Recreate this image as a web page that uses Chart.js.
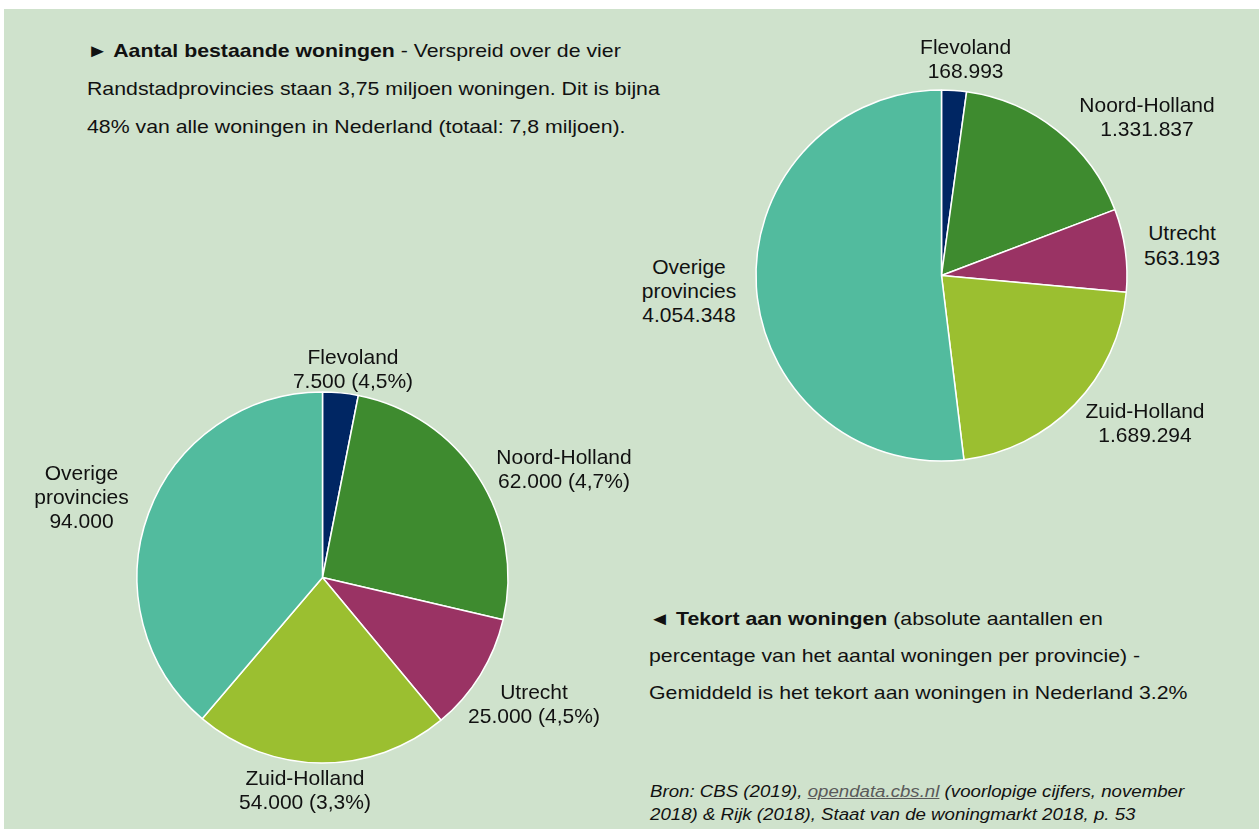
<!DOCTYPE html>
<html><head><meta charset="utf-8">
<script src="https://cdn.jsdelivr.net/npm/chart.js@4.4.1/dist/chart.umd.min.js"></script>
<style>
html,body{margin:0;padding:0;background:#fff;width:1259px;height:829px;overflow:hidden;position:relative;}
#bg{position:absolute;left:4px;top:9px;right:0;bottom:0;background:#cfe2cc;}
.para{position:absolute;font-family:"Liberation Sans",Arial,sans-serif;color:#111;white-space:nowrap;transform-origin:0 0;}
.lbl{position:absolute;font-family:"Liberation Sans",Arial,sans-serif;font-size:21px;line-height:24.3px;text-align:center;color:#111;white-space:nowrap;transform:translateX(-50%);}
canvas{position:absolute;}
a{color:#5a5a5a;text-decoration:underline;}
</style></head>
<body>
<div id="bg"></div>
<div class="para" id="p1" style="left:87px;top:32.2px;font-size:18.6px;line-height:37.8px;transform:scaleX(1.145);"><b>► Aantal bestaande woningen</b> - Verspreid over de vier<br>Randstadprovincies staan 3,75 miljoen woningen. Dit is bijna<br>48% van alle woningen in Nederland (totaal: 7,8 miljoen).</div>
<div class="para" id="p2" style="left:649px;top:600px;font-size:18.6px;line-height:37.2px;transform:scaleX(1.145);"><b>◄ Tekort aan woningen</b> (absolute aantallen en<br>percentage van het aantal woningen per provincie) -<br>Gemiddeld is het tekort aan woningen in Nederland 3.2%</div>
<div class="para" id="src" style="left:650px;top:780px;font-size:16.3px;line-height:22.5px;font-style:italic;transform:scaleX(1.146);">Bron: CBS (2019), <a>opendata.cbs.nl</a> (voorlopige cijfers, november<br>2018) &amp; Rijk (2018), Staat van de woningmarkt 2018, p. 53</div>
<canvas id="cTop" width="401" height="401" style="left:741px;top:75px;width:401px;height:401px;"></canvas>
<canvas id="cBot" width="401" height="401" style="left:122px;top:377px;width:401px;height:401px;"></canvas>
<script>
// ---- data ----
const categories = ['Flevoland', 'Noord-Holland', 'Utrecht', 'Zuid-Holland', 'Overige provincies'];
const woningen = [168993, 1331837, 563193, 1689294, 4054348];
const tekort = [7500, 62000, 25000, 54000, 94000];
const tekortPct = [4.5, 4.7, 4.5, 3.3, null];
const colors = ['#002663', '#3e8b2f', '#9a3364', '#9bbf30', '#52bb9e'];

// ---- label layout (anchor centre x, first baseline y) ----
const topLabelPos = [[965.6, 54], [1147, 112.3], [1182, 240.7], [1145, 418.3], [689, 274.3]];
const botLabelPos = [[353, 364.3], [564, 464.3], [534, 699.3], [305, 785], [81.5, 480]];

function fmt(n) { return String(n).replace(/\B(?=(\d{3})+(?!\d))/g, '.'); }
function fmtPct(p) { return String(p.toFixed(1)).replace('.', ',') + '%'; }

function makePie(id, values) {
  return new Chart(document.getElementById(id), {
    type: 'pie',
    data: { labels: categories, datasets: [{ data: values, backgroundColor: colors, borderColor: '#ffffff', borderWidth: 1.5 }] },
    options: {
      responsive: false, animation: false, devicePixelRatio: 1, radius: 185.5,
      layout: { padding: 0 },
      plugins: { legend: { display: false }, tooltip: { enabled: false } }
    }
  });
}
makePie('cTop', woningen);
makePie('cBot', tekort);

function addLabel(pos, lines) {
  const d = document.createElement('div');
  d.className = 'lbl';
  const L = 24.3, f = 21;
  d.style.left = pos[0] + 'px';
  d.style.top = (pos[1] - (L / 2 + 0.3465 * f)) + 'px';
  d.innerHTML = lines.join('<br>');
  document.body.appendChild(d);
}
function nameLines(name) { return name === 'Overige provincies' ? ['Overige', 'provincies'] : [name]; }
categories.forEach((c, i) => {
  addLabel(topLabelPos[i], nameLines(c).concat([fmt(woningen[i])]));
  const v = fmt(tekort[i]) + (tekortPct[i] != null ? ' (' + fmtPct(tekortPct[i]) + ')' : '');
  addLabel(botLabelPos[i], nameLines(c).concat([v]));
});
</script>
</body></html>
